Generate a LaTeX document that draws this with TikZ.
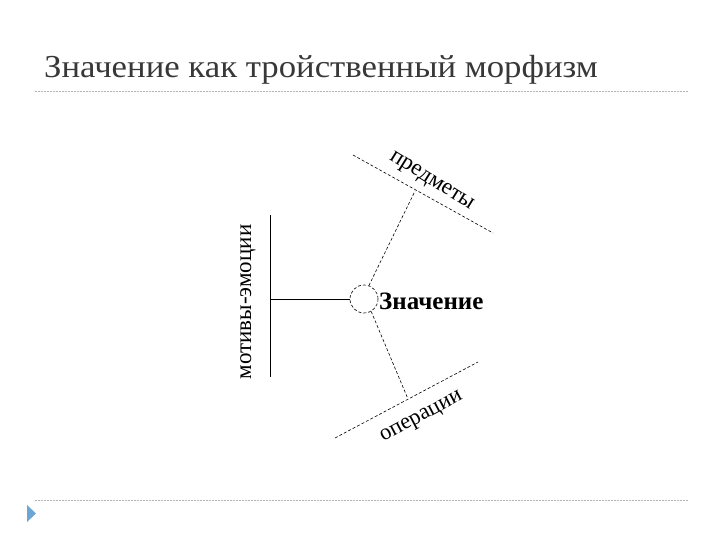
\documentclass[tikz,border=0pt]{standalone}
\usepackage{fontspec}
\setmainfont{Liberation Serif}
\newfontfamily\titlefont{Liberation Serif}
\definecolor{navblue}{RGB}{110,165,215}
\begin{document}
\begin{tikzpicture}[x=1pt,y=-1pt,
  sep/.style={draw=black!30, dash pattern=on 2pt off 1pt, line width=0.6pt},
  thinline/.style={line width=0.7pt},
  dline/.style={line width=0.6pt, dash pattern=on 3pt off 2pt},
  lbl/.style={inner sep=0pt, font=\fontsize{23}{25}\selectfont}]
\useasboundingbox (0,0) rectangle (720,540);
\node[anchor=base west, inner sep=0pt, text=black!78, font=\titlefont\fontsize{32}{36}\selectfont, xscale=1.086] (title) at (44,78) {Значение как тройственный морфизм};
\coordinate (s1a) at (35,91); \coordinate (s1b) at (688,91);
\draw[sep] (s1a) -- (s1b);
\coordinate (s2a) at (35,500); \coordinate (s2b) at (688,500);
\draw[sep] (s2a) -- (s2b);
\fill[navblue] (27,505) -- (36,513.5) -- (27,522) -- cycle;
% diagram
\node[circle, draw, dline, minimum size=28pt, inner sep=0pt] (c) at (364,299) {};
\coordinate (vt) at (270,215); \coordinate (vb) at (270,377); \coordinate (vm) at (270,299);
\draw[thinline] (vt) -- (vb);
\draw[thinline] (vm) -- (c.west);
\node[lbl, rotate=90] (mot) at (248,302) {мотивы-эмоции};
\coordinate (pa) at (353,155); \coordinate (pb) at (493,233); \coordinate (pm) at (415,191);
\draw[dline] (pa) -- (pb);
\draw[dline] (c.70) -- (pm);
\node[lbl, rotate=-32] (pred) at (431,182) {предметы};
\coordinate (oa) at (335,438); \coordinate (ob) at (478,362); \coordinate (om) at (408,399);
\draw[dline] (oa) -- (ob);
\draw[dline] (c.-60) -- (om);
\node[lbl, font=\fontsize{22.5}{25}\selectfont, rotate=28] (oper) at (422,418) {операции};
\node[anchor=west, inner sep=0pt, font=\bfseries\fontsize{25}{28}\selectfont] (zn) at (379,301) {Значение};
\end{tikzpicture}
\end{document}
